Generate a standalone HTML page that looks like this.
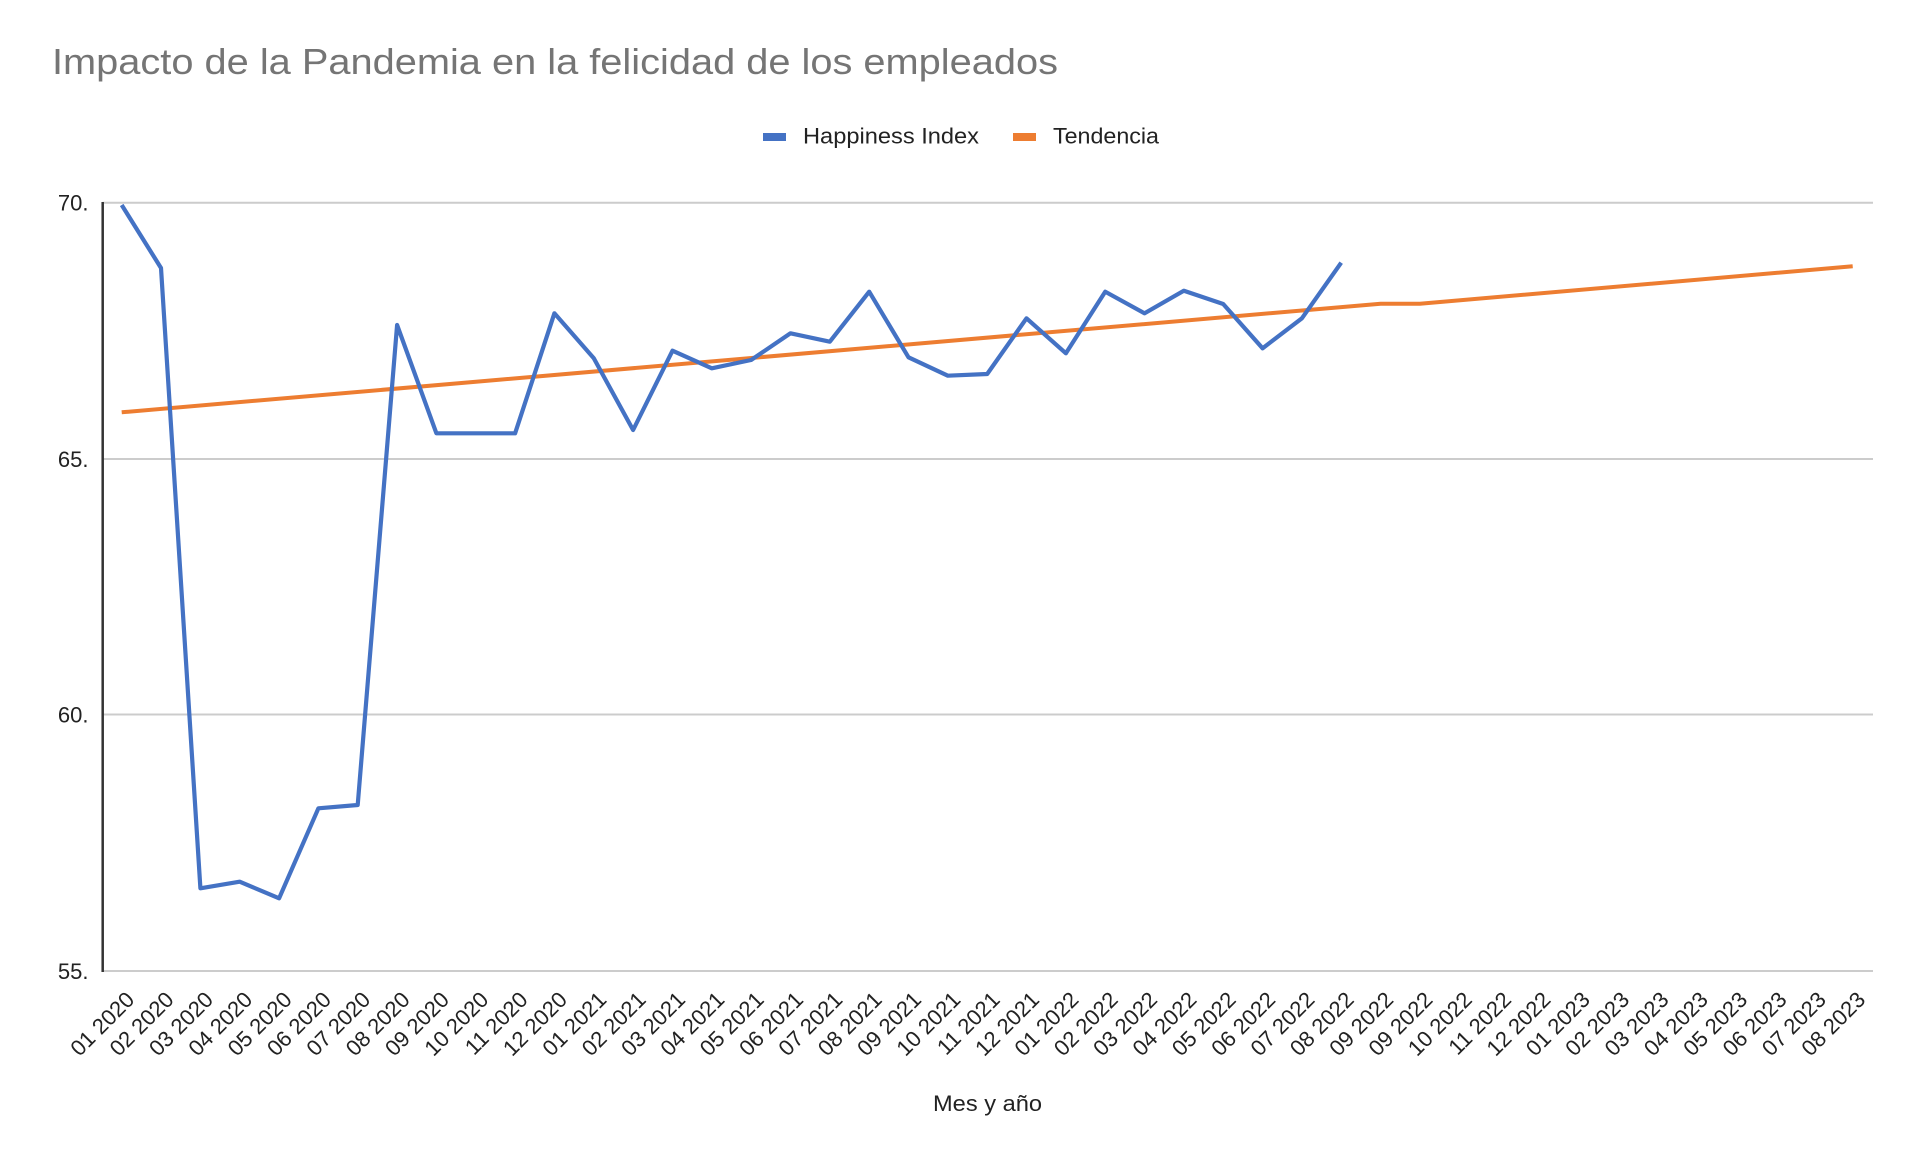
<!DOCTYPE html>
<html>
<head>
<meta charset="utf-8">
<style>
  html, body { margin: 0; padding: 0; background: #ffffff; }
  svg { display: block; }
  text { font-family: "Liberation Sans", Arial, sans-serif; }
</style>
</head>
<body>
<svg width="1920" height="1173" viewBox="0 0 1920 1173" xmlns="http://www.w3.org/2000/svg">
  <rect x="0" y="0" width="1920" height="1173" fill="#ffffff"/>

  <!-- Title -->
  <text x="52" y="74" font-size="36" fill="#757575" textLength="1006" lengthAdjust="spacingAndGlyphs">Impacto de la Pandemia en la felicidad de los empleados</text>

  <!-- Legend -->
  <rect x="763" y="133" width="23" height="8" fill="#4472c4"/>
  <text x="803" y="143.3" font-size="22" fill="#222222" textLength="176" lengthAdjust="spacingAndGlyphs">Happiness Index</text>
  <rect x="1013" y="133" width="23" height="8" fill="#ed7d31"/>
  <text x="1053" y="143.3" font-size="22" fill="#222222" textLength="106" lengthAdjust="spacingAndGlyphs">Tendencia</text>

  <!-- Gridlines -->
  <g stroke="#cccccc" stroke-width="2">
    <line x1="102.7" y1="202.7" x2="1873" y2="202.7"/>
    <line x1="102.7" y1="459" x2="1873" y2="459"/>
    <line x1="102.7" y1="714.5" x2="1873" y2="714.5"/>
    <line x1="102.7" y1="971" x2="1873" y2="971"/>
  </g>

  <!-- Y axis line -->
  <line x1="102.7" y1="202" x2="102.7" y2="972" stroke="#333333" stroke-width="2.5"/>

  <!-- Y labels -->
  <g font-size="22" fill="#222222" text-anchor="end">
    <text x="88.5" y="210.6">70.</text>
    <text x="88.5" y="466.9">65.</text>
    <text x="88.5" y="722.4">60.</text>
    <text x="88.5" y="978.9">55.</text>
  </g>

  <!-- Trend line -->
  <polyline fill="none" stroke="#ed7d31" stroke-width="4" stroke-linejoin="round" stroke-linecap="butt"
    points="121.7,412.3 1380.6,303.7 1419.9,303.7 1852.7,266.3"/>

  <!-- Happiness Index line -->
  <polyline fill="none" stroke="#4472c4" stroke-width="4.2" stroke-linejoin="round" stroke-linecap="butt"
    points="121.7,205 161.0,268 200.4,888.3 239.7,881.7 279.1,898.3 318.4,808.3 357.7,805 397.1,325 436.4,433.3 475.8,433.3 515.1,433.3 554.4,313.3 593.8,358.3 633.1,430 672.5,350.7 711.8,368.3 751.1,360 790.5,333.3 829.8,341.7 869.2,291.7 908.5,357.3 947.8,375.7 987.2,374 1026.5,318.3 1065.9,353.3 1105.2,291.7 1144.5,313.3 1183.9,290.7 1223.2,304 1262.6,348.3 1301.9,318.3 1341.2,262.7"/>

  <!-- X labels (rotated) -->
  <g font-size="22" fill="#222222" text-anchor="end">
    <text x="135.7" y="1001" transform="rotate(-45 135.7 1001)">01 2020</text>
    <text x="175.0" y="1001" transform="rotate(-45 175.0 1001)">02 2020</text>
    <text x="214.4" y="1001" transform="rotate(-45 214.4 1001)">03 2020</text>
    <text x="253.7" y="1001" transform="rotate(-45 253.7 1001)">04 2020</text>
    <text x="293.1" y="1001" transform="rotate(-45 293.1 1001)">05 2020</text>
    <text x="332.4" y="1001" transform="rotate(-45 332.4 1001)">06 2020</text>
    <text x="371.7" y="1001" transform="rotate(-45 371.7 1001)">07 2020</text>
    <text x="411.1" y="1001" transform="rotate(-45 411.1 1001)">08 2020</text>
    <text x="450.4" y="1001" transform="rotate(-45 450.4 1001)">09 2020</text>
    <text x="489.8" y="1001" transform="rotate(-45 489.8 1001)">10 2020</text>
    <text x="529.1" y="1001" transform="rotate(-45 529.1 1001)">11 2020</text>
    <text x="568.4" y="1001" transform="rotate(-45 568.4 1001)">12 2020</text>
    <text x="607.8" y="1001" transform="rotate(-45 607.8 1001)">01 2021</text>
    <text x="647.1" y="1001" transform="rotate(-45 647.1 1001)">02 2021</text>
    <text x="686.5" y="1001" transform="rotate(-45 686.5 1001)">03 2021</text>
    <text x="725.8" y="1001" transform="rotate(-45 725.8 1001)">04 2021</text>
    <text x="765.1" y="1001" transform="rotate(-45 765.1 1001)">05 2021</text>
    <text x="804.5" y="1001" transform="rotate(-45 804.5 1001)">06 2021</text>
    <text x="843.8" y="1001" transform="rotate(-45 843.8 1001)">07 2021</text>
    <text x="883.2" y="1001" transform="rotate(-45 883.2 1001)">08 2021</text>
    <text x="922.5" y="1001" transform="rotate(-45 922.5 1001)">09 2021</text>
    <text x="961.8" y="1001" transform="rotate(-45 961.8 1001)">10 2021</text>
    <text x="1001.2" y="1001" transform="rotate(-45 1001.2 1001)">11 2021</text>
    <text x="1040.5" y="1001" transform="rotate(-45 1040.5 1001)">12 2021</text>
    <text x="1079.9" y="1001" transform="rotate(-45 1079.9 1001)">01 2022</text>
    <text x="1119.2" y="1001" transform="rotate(-45 1119.2 1001)">02 2022</text>
    <text x="1158.5" y="1001" transform="rotate(-45 1158.5 1001)">03 2022</text>
    <text x="1197.9" y="1001" transform="rotate(-45 1197.9 1001)">04 2022</text>
    <text x="1237.2" y="1001" transform="rotate(-45 1237.2 1001)">05 2022</text>
    <text x="1276.6" y="1001" transform="rotate(-45 1276.6 1001)">06 2022</text>
    <text x="1315.9" y="1001" transform="rotate(-45 1315.9 1001)">07 2022</text>
    <text x="1355.2" y="1001" transform="rotate(-45 1355.2 1001)">08 2022</text>
    <text x="1394.6" y="1001" transform="rotate(-45 1394.6 1001)">09 2022</text>
    <text x="1433.9" y="1001" transform="rotate(-45 1433.9 1001)">09 2022</text>
    <text x="1473.3" y="1001" transform="rotate(-45 1473.3 1001)">10 2022</text>
    <text x="1512.6" y="1001" transform="rotate(-45 1512.6 1001)">11 2022</text>
    <text x="1551.9" y="1001" transform="rotate(-45 1551.9 1001)">12 2022</text>
    <text x="1591.3" y="1001" transform="rotate(-45 1591.3 1001)">01 2023</text>
    <text x="1630.6" y="1001" transform="rotate(-45 1630.6 1001)">02 2023</text>
    <text x="1670.0" y="1001" transform="rotate(-45 1670.0 1001)">03 2023</text>
    <text x="1709.3" y="1001" transform="rotate(-45 1709.3 1001)">04 2023</text>
    <text x="1748.6" y="1001" transform="rotate(-45 1748.6 1001)">05 2023</text>
    <text x="1788.0" y="1001" transform="rotate(-45 1788.0 1001)">06 2023</text>
    <text x="1827.3" y="1001" transform="rotate(-45 1827.3 1001)">07 2023</text>
    <text x="1866.7" y="1001" transform="rotate(-45 1866.7 1001)">08 2023</text>
  </g>

  <!-- X axis title -->
  <text x="933" y="1111" font-size="22.5" fill="#222222" textLength="109" lengthAdjust="spacingAndGlyphs">Mes y año</text>
</svg>
</body>
</html>
